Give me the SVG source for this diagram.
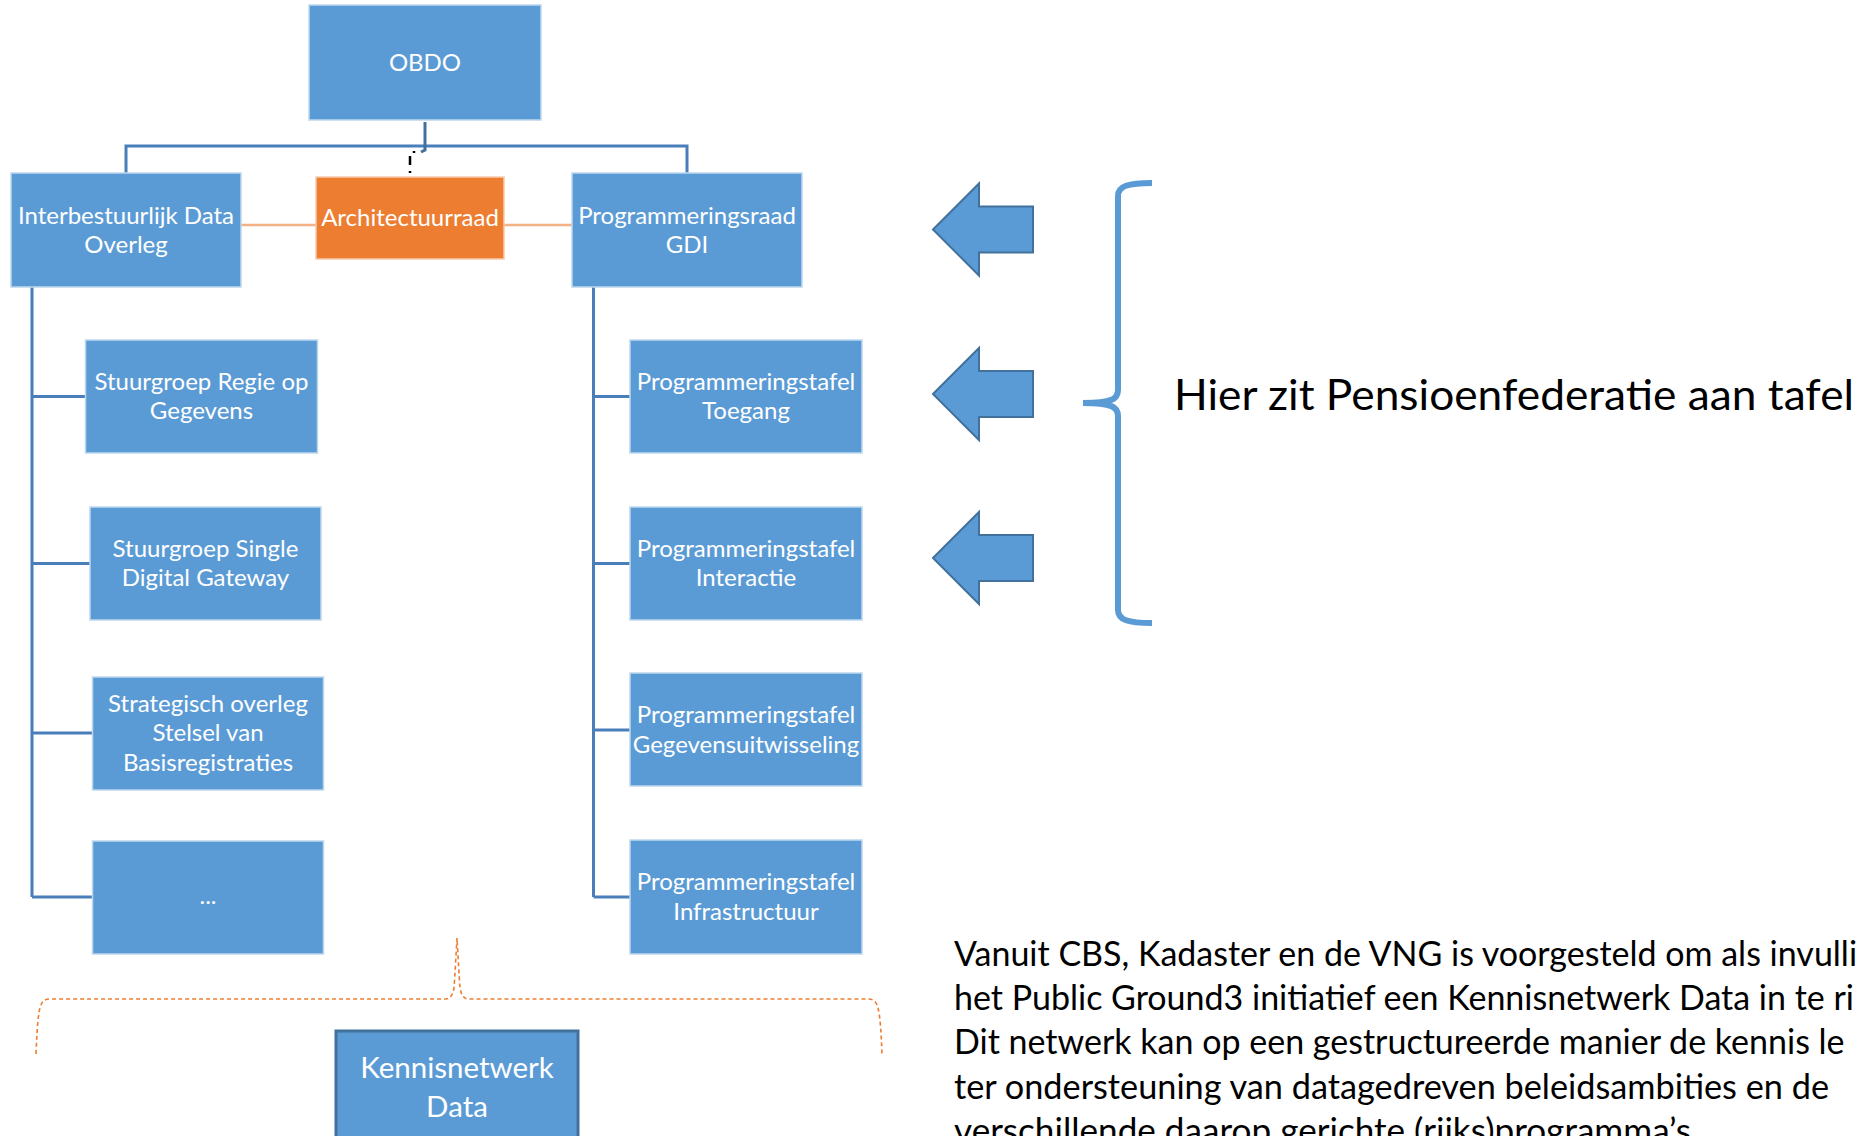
<svg xmlns="http://www.w3.org/2000/svg" width="1862" height="1136" viewBox="0 0 1862 1136">
  <style>
    .box { fill: #5B9BD5; stroke: #BDD7EE; stroke-width: 1.5; }
    .arch { fill: #ED7D31; stroke: #F8CBAD; stroke-width: 1.5; }
    .kn { fill: #5B9BD5; stroke: #41719C; stroke-width: 3; }
    .lbl { font-family: Lato, "Open Sans", "Liberation Sans", sans-serif; font-size: 24px; fill: #FFFFFF; text-anchor: middle; }
    .big { font-family: Lato, "Open Sans", "Liberation Sans", sans-serif; fill: #000000; }
    .tree { fill: none; stroke: #4A7EBB; stroke-width: 3; }
    .peer { fill: none; stroke: #F4B183; stroke-width: 2.5; }
    .arrow { fill: #5B9BD5; stroke: #41719C; stroke-width: 2; stroke-linejoin: miter; }
  </style>
  <defs>
    <polygon id="leftArrow" points="0,0 46,-46 46,-23 100,-23 100,23 46,23 46,46"/>
  </defs>
  <rect width="1862" height="1136" fill="#FFFFFF"/>

  <!-- connectors -->
  <g id="connectors">
    <path class="tree" d="M126,173 V146 H687 V173"/>
    <path d="M425,122 V150 L421,152" fill="none" stroke="#41719C" stroke-width="3"/>
    <path d="M414,151 v2 M410,156 v9 M410,171 v2" fill="none" stroke="#000000" stroke-width="2.5"/>
    <path class="peer" d="M241,225 H316 M504,225 H572"/>
    <path class="tree" d="M32,287 V897 M32,396.5 H85.5 M32,563.5 H90 M32,733 H92.5 M32,897 H92.5"/>
    <path class="tree" d="M593.5,287 V897 M593.5,396.5 H630 M593.5,563.5 H630 M593.5,730 H630 M593.5,897 H630"/>
    <path d="M36,1054 C37,1030 38,1012 41,1005 Q43,999 50,999 H446 Q452,999 454,988 C455,975 456,955 457,938 C458,955 459,975 460,988 Q462,999 468,999 H868 Q875,999 877,1005 C880,1012 881,1030 882,1054" fill="none" stroke="#ED7D31" stroke-width="1.6" stroke-dasharray="4 3"/>
  </g>

  <!-- nodes -->
  <g id="obdo">
    <rect class="box" x="309" y="5" width="232" height="115"/>
    <text class="lbl" x="425" y="71">OBDO</text>
  </g>
  <g id="interbestuurlijk">
    <rect class="box" x="11" y="173" width="230" height="114"/>
    <text class="lbl" x="126" y="223.5">Interbestuurlijk Data</text>
    <text class="lbl" x="126" y="253">Overleg</text>
  </g>
  <g id="architectuurraad">
    <rect class="arch" x="316" y="177" width="188" height="82"/>
    <text class="lbl" x="410" y="226">Architectuurraad</text>
  </g>
  <g id="programmeringsraad">
    <rect class="box" x="572" y="173" width="230" height="114"/>
    <text class="lbl" x="687" y="223.5">Programmeringsraad</text>
    <text class="lbl" x="687" y="253">GDI</text>
  </g>

  <g id="stuurgroep-regie">
    <rect class="box" x="85.5" y="340" width="232" height="113"/>
    <text class="lbl" x="201.5" y="389.5">Stuurgroep Regie op</text>
    <text class="lbl" x="201.5" y="419">Gegevens</text>
  </g>
  <g id="stuurgroep-sdg">
    <rect class="box" x="90" y="507" width="231" height="113"/>
    <text class="lbl" x="205.5" y="556.5">Stuurgroep Single</text>
    <text class="lbl" x="205.5" y="586">Digital Gateway</text>
  </g>
  <g id="strategisch-overleg">
    <rect class="box" x="92.5" y="677" width="231" height="113"/>
    <text class="lbl" x="208" y="711.5">Strategisch overleg</text>
    <text class="lbl" x="208" y="741">Stelsel van</text>
    <text class="lbl" x="208" y="770.5">Basisregistraties</text>
  </g>
  <g id="overig">
    <rect class="box" x="92.5" y="841" width="231" height="113"/>
    <text class="lbl" x="208" y="904">...</text>
  </g>

  <g id="tafel-toegang">
    <rect class="box" x="630" y="340" width="232" height="113"/>
    <text class="lbl" x="746" y="389.5">Programmeringstafel</text>
    <text class="lbl" x="746" y="419">Toegang</text>
  </g>
  <g id="tafel-interactie">
    <rect class="box" x="630" y="507" width="232" height="113"/>
    <text class="lbl" x="746" y="556.5">Programmeringstafel</text>
    <text class="lbl" x="746" y="586">Interactie</text>
  </g>
  <g id="tafel-gegevensuitwisseling">
    <rect class="box" x="630" y="673" width="232" height="113"/>
    <text class="lbl" x="746" y="723">Programmeringstafel</text>
    <text class="lbl" x="746" y="752.5">Gegevensuitwisseling</text>
  </g>
  <g id="tafel-infrastructuur">
    <rect class="box" x="630" y="840" width="232" height="114"/>
    <text class="lbl" x="746" y="890">Programmeringstafel</text>
    <text class="lbl" x="746" y="919.5">Infrastructuur</text>
  </g>

  <g id="kennisnetwerk">
    <rect class="kn" x="336" y="1031" width="242" height="130"/>
    <text class="lbl" x="457" y="1078" style="font-size:29.5px">Kennisnetwerk</text>
    <text class="lbl" x="457" y="1117" style="font-size:29.5px">Data</text>
  </g>

  <!-- pointer arrows -->
  <g id="arrows">
    <use href="#leftArrow" class="arrow" transform="translate(933,229.5)"/>
    <use href="#leftArrow" class="arrow" transform="translate(933,394)"/>
    <use href="#leftArrow" class="arrow" transform="translate(933,558)"/>
  </g>

  <!-- curly bracket and note -->
  <g id="brace-note">
    <path d="M1152,183 C1128,183 1118,186 1118,196 V390 C1118,399 1112,403 1083,403 C1112,403 1118,407 1118,416 V610 C1118,620 1128,623 1152,623" fill="none" stroke="#5B9BD5" stroke-width="6"/>
    <text class="big" x="1174" y="410" style="font-size:42px" textLength="680" lengthAdjust="spacingAndGlyphs">Hier zit Pensioenfederatie aan tafel</text>
  </g>

  <g id="toelichting" class="big" style="font-size:34px">
    <text x="954" y="966">Vanuit CBS, Kadaster en de VNG is voorgesteld om als invulli</text>
    <text x="954" y="1010">het Public Ground3 initiatief een Kennisnetwerk Data in te ri</text>
    <text x="954" y="1054">Dit netwerk kan op een gestructureerde manier de kennis le</text>
    <text x="954" y="1099" textLength="875" lengthAdjust="spacingAndGlyphs">ter ondersteuning van datagedreven beleidsambities en de</text>
    <text x="954" y="1143" textLength="737" lengthAdjust="spacingAndGlyphs">verschillende daarop gerichte (rijks)programma’s</text>
  </g>
</svg>
